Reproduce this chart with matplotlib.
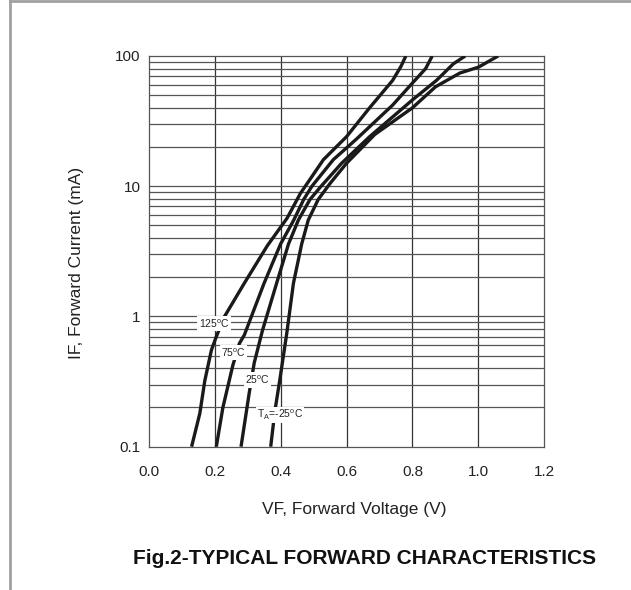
import numpy as np
import matplotlib as mat
mat.use('Agg')
import matplotlib.pyplot as plt
from matplotlib.lines import Line2D

plt.rcParams['font.family'] = ['Liberation Sans', 'DejaVu Sans']
plt.rcParams['mathtext.fontset'] = 'custom'
plt.rcParams['mathtext.rm'] = 'Liberation Sans'

# forward voltage (V) / forward current (mA)
vf_125 = [0.13, 0.155, 0.17, 0.19, 0.205, 0.23, 0.29, 0.36, 0.42, 0.46, 0.53, 0.60, 0.67, 0.74, 0.765, 0.78]
if_125 = [0.1, 0.18, 0.32, 0.55, 0.7, 1.0, 1.8, 3.5, 5.7, 8.8, 16, 24, 40, 65, 83, 100]

vf_75 = [0.205, 0.225, 0.255, 0.275, 0.29, 0.35, 0.40, 0.44, 0.47, 0.495, 0.56, 0.63, 0.74, 0.80, 0.84, 0.86]
if_75 = [0.1, 0.2, 0.42, 0.62, 0.72, 1.8, 3.6, 5.5, 7.9, 10, 16, 23, 42, 62, 80, 100]

vf_25 = [0.28, 0.305, 0.32, 0.345, 0.388, 0.424, 0.454, 0.489, 0.52, 0.585, 0.67, 0.80, 0.873, 0.924, 0.96]
if_25 = [0.1, 0.26, 0.44, 0.78, 1.8, 3.6, 5.5, 7.9, 9.8, 15, 24, 46, 65, 87, 100]

vf_m25 = [0.37, 0.383, 0.398, 0.419, 0.439, 0.464, 0.484, 0.514, 0.55, 0.60, 0.686, 0.80, 0.87, 0.944, 1.0, 1.06]
if_m25 = [0.1, 0.19, 0.33, 0.75, 1.8, 3.6, 5.5, 7.9, 10.5, 15, 25, 40, 58, 74, 82, 100]

curves = [(vf_125, if_125), (vf_75, if_75), (vf_25, if_25), (vf_m25, if_m25)]

# curve labels and where they sit (V, mA)
labels = [r'125$^{\rm o}$C', r'75$^{\rm o}$C', r'25$^{\rm o}$C', r'T$\mathregular{_A}$=-25$^{\rm o}$C']
label_pos = [(0.198, 0.88), (0.257, 0.53), (0.330, 0.325), (0.398, 0.175)]

x_ticks = [0.0, 0.2, 0.4, 0.6, 0.8, 1.0, 1.2]
y_ticks = [0.1, 1, 10, 100]
y_ticklabels = ['0.1', '1', '10', '100']

fig = plt.figure(figsize=(6.31, 5.90), dpi=100)
ax = fig.add_axes([0.2357, 0.2429, 0.8626 - 0.2357, 0.9051 - 0.2429])

ax.set_yscale('log')
ax.set_xlim(0, 1.2)
ax.set_ylim(0.1, 100)

# grid: every 0.2 V and every 1..9 per decade
for x in x_ticks[1:-1]:
    ax.axvline(x, color='#333333', lw=0.9, zorder=1)
for dec in [0.1, 1, 10]:
    for m in range(1, 10):
        if dec * m > 0.1:
            ax.axhline(dec * m, color='#555555', lw=0.9, zorder=1)

for v, i in curves:
    ax.plot(v, i, color='#1a1a1a', lw=2.4, solid_capstyle='butt', zorder=3)

for txt, (x, y) in zip(labels, label_pos):
    ax.text(x, y, txt, fontsize=7.5, ha='center', va='center', color='#222222', zorder=5,
            bbox=dict(facecolor='white', edgecolor='none', pad=1.0))

ax.set_xticks(x_ticks)
ax.set_xticklabels(['%.1f' % x for x in x_ticks])
ax.set_yticks(y_ticks)
ax.set_yticklabels(y_ticklabels)
ax.minorticks_off()
ax.tick_params(length=0, labelsize=11, colors='#222222')
ax.tick_params(axis='x', pad=13)
ax.tick_params(axis='y', pad=6)
for s in ax.spines.values():
    s.set_color('#555555')
    s.set_linewidth(0.9)

ax.text(0.519, -0.161, 'VF, Forward Voltage (V)', fontsize=12.5, color='#222222',
        ha='center', va='center', transform=ax.transAxes)
ax.text(-0.182, 0.471, 'IF, Forward Current (mA)', fontsize=12.5, color='#222222',
        ha='center', va='center', rotation=90, transform=ax.transAxes)

fig.text(0.578, 0.054, 'Fig.2-TYPICAL FORWARD CHARACTERISTICS', fontsize=15,
         fontweight='bold', ha='center', va='center', color='#111111')

# gray frame on top and left
fig.add_artist(Line2D([0.0155, 1.0], [0.998, 0.998], transform=fig.transFigure, color='#a0a0a0', lw=2))
fig.add_artist(Line2D([0.0155, 0.0155], [0.0, 0.998], transform=fig.transFigure, color='#a0a0a0', lw=2))

fig.savefig('out.png', dpi=100)
